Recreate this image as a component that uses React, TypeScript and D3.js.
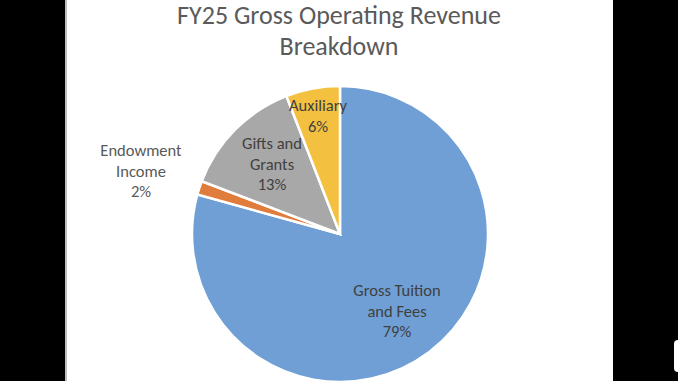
import React, { useEffect } from "react";
import * as d3 from "d3";

const categories = ["Gross Tuition and Fees", "Endowment Income", "Gifts and Grants", "Auxiliary"];
const values = [79.3, 1.5, 13.3, 5.9];
const labelLines = [["Gross Tuition", "and Fees", "79%"], ["Endowment", "Income", "2%"], ["Gifts and", "Grants", "13%"], ["Auxiliary", "6%"]];
const colors = ["#6f9fd4", "#e07c3c", "#a8a8a8", "#f4c040"];
const titleLines = ["FY25 Gross Operating Revenue", "Breakdown"];

const W = 678, H = 381;
const cx = 340, cy = 234, R = 148;
// label anchor positions (center of first line) — layout, not data
const labelPos: [number, number][] = [[397, 296], [141, 156], [272, 149], [318, 111]];

export default function App() {
  useEffect(() => {
    document.body.style.margin = "0";
  }, []);
  const pie = d3.pie<number>().sort(null).startAngle(0).endAngle(2 * Math.PI);
  const arcs = pie(values);
  const arc = d3.arc<d3.PieArcDatum<number>>().innerRadius(0).outerRadius(R);
  const font = "Carlito, Lato, 'Open Sans', sans-serif";
  return (
    <svg width={W} height={H} style={{ display: "block" }}>
      <rect x={0} y={0} width={W} height={H} fill="#000" />
      <rect x={65} y={0} width={548} height={H} fill="#fff" />
      <rect x={65} y={0} width={2} height={H} fill="#bdbdbd" />
      <rect x={674} y={340} width={10} height={32} rx={4} fill="#fff" />
      {titleLines.map((t, i) => (
        <text key={i} x={339} y={24 + i * 31} textAnchor="middle" fontFamily={font} fontSize={26} fill="#5a5a5a">{t}</text>
      ))}
      <g transform={`translate(${cx},${cy})`}>
        {arcs.map((a, i) => (
          <path key={categories[i]} d={arc(a) || ""} fill={colors[i]} stroke="#fff" strokeWidth={2.5} strokeLinejoin="miter" />
        ))}
      </g>
      {labelLines.map((lines, i) => (
        <text key={i} fontFamily={font} fontSize={16.5} textAnchor="middle" fill={i === 1 ? "#595959" : "#404040"}>
          {lines.map((l, j) => (
            <tspan key={j} x={labelPos[i][0]} y={labelPos[i][1] + j * 20.5}>{l}</tspan>
          ))}
        </text>
      ))}
    </svg>
  );
}
